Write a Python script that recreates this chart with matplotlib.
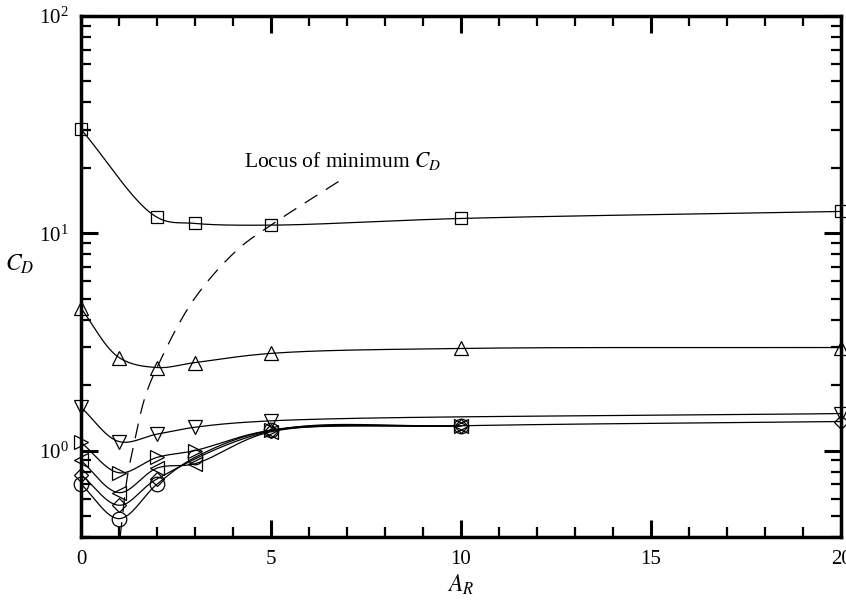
import numpy as np
import matplotlib.pyplot as plt
from matplotlib.ticker import LogLocator, MultipleLocator, NullFormatter

plt.rcParams["font.family"] = ["Liberation Serif", "DejaVu Serif"]
plt.rcParams["mathtext.fontset"] = "stix"

# drag coefficient vs aspect ratio
ar_sq = [0, 2, 3, 5, 10, 20]
cd_sq = [30.1, 11.85, 11.1, 10.9, 11.7, 12.6]

ar_up = [0, 1, 2, 3, 5, 10, 20]
cd_up = [4.51, 2.68, 2.41, 2.54, 2.80, 2.95, 2.98]

ar_dn = [0, 1, 2, 3, 5, 20]
cd_dn = [1.58, 1.10, 1.19, 1.28, 1.37, 1.48]

ar_rt = [0, 1, 2, 3, 5, 10]
cd_rt = [1.09, 0.79, 0.93, 1.00, 1.24, 1.30]

ar_lt = [0, 1, 2, 3, 5, 10]
cd_lt = [0.90, 0.64, 0.83, 0.87, 1.22, 1.30]

ar_di = [0, 1, 2, 5, 10, 20]
cd_di = [0.775, 0.56, 0.74, 1.23, 1.30, 1.36]

ar_ci = [0, 1, 2, 3, 5, 10]
cd_ci = [0.70, 0.486, 0.70, 0.93, 1.24, 1.30]

# locus of minimum CD
ar_loc = [1.03, 1.21, 1.34, 1.68, 2.0, 2.95, 4.1, 5.0, 6.95]
cd_loc = [0.40, 0.74, 0.97, 1.75, 2.41, 4.9, 8.35, 10.9, 18.1]

SX, SY = 38.0, 217.0


def catmull_rom(P, n=60, alpha=0.5):
    # centripetal Catmull-Rom through all points of P
    P = np.vstack([2 * P[0] - P[1], P, 2 * P[-1] - P[-2]])
    out = []
    for i in range(1, len(P) - 2):
        p0, p1, p2, p3 = P[i - 1], P[i], P[i + 1], P[i + 2]
        t0 = 0.0
        t1 = t0 + np.linalg.norm(p1 - p0) ** alpha
        t2 = t1 + np.linalg.norm(p2 - p1) ** alpha
        t3 = t2 + np.linalg.norm(p3 - p2) ** alpha
        t = np.linspace(t1, t2, n)[:, None]
        a1 = (t1 - t) / (t1 - t0) * p0 + (t - t0) / (t1 - t0) * p1
        a2 = (t2 - t) / (t2 - t1) * p1 + (t - t1) / (t2 - t1) * p2
        a3 = (t3 - t) / (t3 - t2) * p2 + (t - t2) / (t3 - t2) * p3
        b1 = (t2 - t) / (t2 - t0) * a1 + (t - t0) / (t2 - t0) * a2
        b2 = (t3 - t) / (t3 - t1) * a2 + (t - t1) / (t3 - t1) * a3
        out.append((t2 - t) / (t2 - t1) * b1 + (t - t1) / (t2 - t1) * b2)
    return np.vstack(out)


def suavizar(x, y):
    P = np.column_stack([np.asarray(x, float) * SX,
                         np.log10(np.asarray(y, float)) * SY])
    C = catmull_rom(P)
    return C[:, 0] / SX, 10 ** (C[:, 1] / SY)


def curva(ax, x, y, marker, ms):
    xs, ys = suavizar(x, y)
    ax.plot(xs, ys, color="black", lw=0.9)
    ax.plot(x, y, linestyle="none", marker=marker, ms=ms, mfc="none",
            mec="black", mew=0.9, clip_on=False)


fig = plt.figure(figsize=(8.46, 6.02), dpi=100)
ax = fig.add_axes([81 / 846, 65 / 602, 760 / 846, 521 / 602])

curva(ax, ar_sq, cd_sq, "s", 8.5)
curva(ax, ar_up, cd_up, "^", 9.5)
curva(ax, ar_dn, cd_dn, "v", 9.5)
curva(ax, ar_rt, cd_rt, ">", 9.5)
curva(ax, ar_lt, cd_lt, "<", 9.5)
curva(ax, ar_di, cd_di, "D", 7.5)
curva(ax, ar_ci, cd_ci, "o", 10.5)

xl, yl = suavizar(ar_loc, cd_loc)
ax.plot(xl, yl, color="black", lw=0.9, linestyle=(0, (12, 8)))
ax.text(4.3, 20.2, r"Locus of minimum $C_D$", fontsize=15.5, va="baseline")

ax.set_yscale("log")
ax.set_xlim(0, 20)
ax.set_ylim(0.4, 100)
ax.xaxis.set_major_locator(MultipleLocator(5))
ax.xaxis.set_minor_locator(MultipleLocator(1))
ax.yaxis.set_major_locator(LogLocator(base=10))
ax.yaxis.set_minor_locator(LogLocator(base=10, subs=np.arange(2, 10)))
ax.yaxis.set_minor_formatter(NullFormatter())

ax.tick_params(which="both", direction="in", top=True, right=True,
               labelsize=15)
ax.tick_params(which="major", length=12, width=2.2, pad=9)
ax.tick_params(which="minor", length=7, width=1.6)
for s in ax.spines.values():
    s.set_linewidth(2.5)

ax.set_xlabel(r"$A_R$", fontsize=17, labelpad=3)
ax.set_ylabel(r"$C_D$", fontsize=17, rotation=0, labelpad=14)

fig.savefig("out.png", dpi=100)
